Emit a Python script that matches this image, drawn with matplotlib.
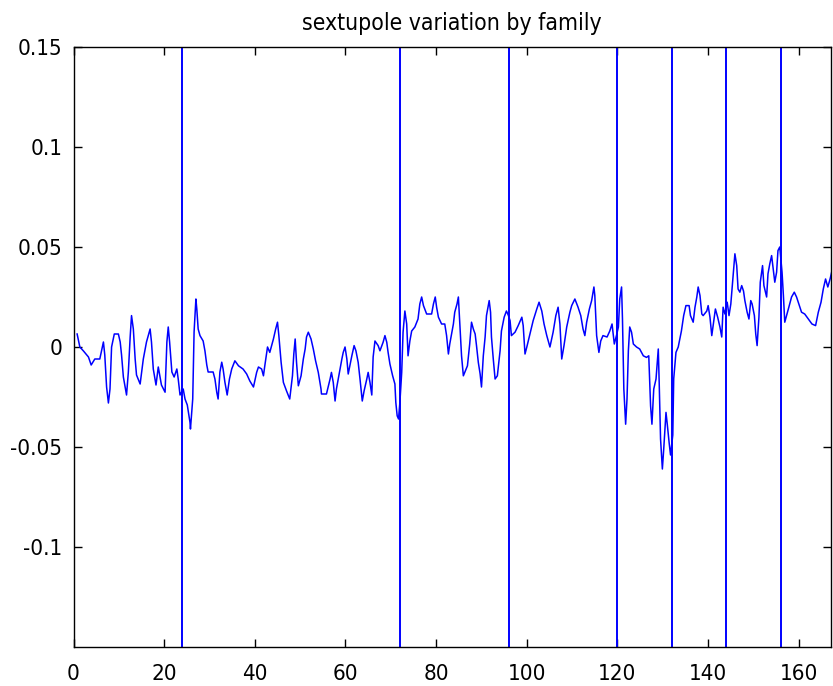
import matplotlib
matplotlib.use("Agg")
import matplotlib.pyplot as plt

title = "sextupole variation by family"

# x positions (element index) and sextupole variation
x_pos = [0.8, 1.4, 2.2, 3.3, 3.9, 4.7, 5.8, 6.6, 6.9, 7.3, 7.7, 8.05, 8.4, 9.0, 9.9, 10.3, 10.6, 11.0, 11.7, 12.1,
         12.5, 12.8, 13.2, 13.6, 13.9, 14.7, 15.4, 16.1, 16.9, 17.2, 17.6, 18.2, 18.7, 19.4, 20.2, 20.6, 20.9, 21.2,
         21.7, 22.2, 22.8, 23.1, 23.5, 24.2, 24.6, 25.1, 25.7, 25.8, 26.3, 26.6, 27.0,
         27.2, 27.5, 27.9, 28.6, 29.0, 29.4, 29.7, 30.8, 31.2, 31.6, 31.9, 32.3, 32.7, 33.0, 33.4, 33.9, 34.4, 34.9,
         35.6, 36.4, 37.4, 38.2, 38.9, 39.7, 40.4, 40.8, 41.5, 41.9, 42.2, 42.8, 43.3, 44.1, 44.6, 45.0, 45.3, 45.8,
         46.3, 47.0, 47.7, 48.3, 48.6, 48.9, 49.2, 49.6, 50.2, 50.7, 51.1, 51.4, 51.8, 52.4, 52.9, 53.4, 54.0, 54.6,
         54.7, 55.8, 56.6, 56.9, 57.3, 57.7, 58.0, 58.4, 58.8, 59.2, 59.5, 59.9, 60.3, 60.6, 61.0, 61.4, 61.9, 62.3,
         62.8, 63.2, 63.7, 64.1, 64.7, 65.0, 65.4, 65.8, 66.1, 66.5, 67.2, 67.6, 68.3, 68.7, 69.1, 69.4, 69.8, 70.4,
         70.9, 71.1, 71.4, 71.7, 72.0, 72.4, 72.7, 73.1, 73.5, 73.8, 74.2, 74.6, 75.3, 76.0, 76.4, 76.8, 77.2, 77.9,
         79.0, 79.4, 79.8, 80.1, 80.5, 81.2, 81.9,
         82.3, 82.7, 83.0, 83.4, 83.8, 84.1, 84.6, 84.9, 85.2, 85.6, 86.0, 86.3, 86.9, 87.4, 87.8, 88.2, 88.6, 88.9,
         89.3, 89.7, 90.0, 90.4, 90.8, 91.1, 91.5, 91.7, 92.0, 92.2, 92.6, 93.0, 93.5, 94.1, 94.4, 95.0, 95.5, 95.9,
         96.3, 96.6, 97.4, 98.1, 98.9, 99.2, 99.6, 100.0, 100.7, 101.4, 102.2, 102.7, 103.3, 103.8, 104.4, 105.1,
         105.8, 106.4, 106.9, 107.3, 107.7, 108.2, 108.8, 109.5, 109.9,
         110.6, 111.3, 111.9, 112.4, 112.8, 113.2, 113.8, 114.3, 114.8, 115.0, 115.4, 115.9, 116.3, 116.8, 117.7,
         118.3, 118.8, 119.3, 119.8, 120.2, 120.5, 120.9, 121.1, 121.4, 121.8, 122.1, 122.4, 122.7, 123.1, 123.5,
         124.2, 124.9, 125.7, 126.4, 126.9, 127.3, 127.6, 128.0, 128.5, 129.0, 129.2, 129.5, 129.9, 130.2, 130.7,
         131.0, 131.4, 131.7, 132.2, 132.4, 132.9, 133.4, 134.1, 134.6, 135.1, 135.8, 136.1, 136.7, 137.1, 137.5,
         137.8, 138.2, 138.6, 138.9, 139.7, 140.0, 140.4, 140.8, 141.1, 141.6, 142.1, 142.6, 143.0, 143.3, 143.7,
         144.2, 144.6, 145.0, 145.3, 145.6, 145.9, 146.3, 146.6, 147.0, 147.4, 147.8, 148.1, 148.6, 149.0, 149.4,
         149.7, 150.2, 150.5, 150.8, 151.2, 151.5, 152.0, 152.3, 152.9, 153.2, 153.6, 154.0, 154.3, 154.7, 155.1,
         155.4, 155.8, 156.3, 156.6, 156.9, 157.3, 157.8, 158.4, 159.0, 159.5, 160.0, 160.6, 161.3, 162.1, 162.9,
         163.7, 164.3, 164.9, 165.4, 165.9, 166.4, 166.9, 167.4]

variation = [0.0065, 0.0, -0.002, -0.005, -0.009, -0.006, -0.006, 0.0025, -0.004, -0.020, -0.028, -0.021, 0.0, 0.0065,
             0.0065, 0.0025, -0.004, -0.015, -0.024, -0.0125, 0.005, 0.0157, 0.009, -0.006, -0.014, -0.0185, -0.006,
             0.0025, 0.009, 0.0025, -0.011, -0.019, -0.010, -0.019, -0.0226, 0.0025, 0.010, 0.0025, -0.0125, -0.015,
             -0.011, -0.016, -0.024, -0.021, -0.026, -0.029, -0.0377, -0.041, -0.026, 0.0075, 0.024,
             0.019, 0.009, 0.0057, 0.003, -0.002, -0.009, -0.0125, -0.0125, -0.016, -0.0226, -0.026, -0.0125, -0.0076,
             -0.011, -0.0176, -0.024, -0.016, -0.011, -0.0069, -0.0094, -0.011, -0.0135, -0.017, -0.020, -0.0127,
             -0.010, -0.011, -0.0144, -0.0094, 0.0, -0.0027, 0.004, 0.009, 0.0124, 0.0057, -0.0077, -0.0177, -0.022,
             -0.026, -0.0144, -0.0035, 0.004, -0.0077, -0.0194, -0.0144, -0.006, -0.001, 0.005, 0.0074, 0.004, -0.001,
             -0.0069, -0.0127, -0.021,
             -0.0235, -0.0235, -0.016, -0.0127, -0.0177, -0.027, -0.021, -0.016, -0.011, -0.006, -0.0027, 0.0, -0.006,
             -0.0135, -0.009, -0.0044, 0.0007, -0.0019, -0.0077, -0.016, -0.027, -0.022, -0.016, -0.0127, -0.0177,
             -0.024, -0.005, 0.003, 0.0007, -0.0019, 0.0024, 0.0057, 0.0024, -0.0027, -0.0085, -0.0144, -0.0185,
             -0.0277, -0.0344, -0.036, -0.0277, -0.0127, 0.0074, 0.018, 0.0115, -0.0044, 0.003, 0.008, 0.010, 0.014,
             0.0215, 0.025, 0.0207, 0.0165, 0.0165, 0.0215, 0.025, 0.0199, 0.0149, 0.0115, 0.0115,
             0.0057, -0.0035, 0.0015, 0.0065, 0.0115, 0.0174, 0.0215, 0.025, 0.0124, -0.0044, -0.0144, -0.0127,
             -0.0094, 0.0015, 0.0124, 0.009, 0.0065, 0.0007, -0.0077, -0.0135, -0.020, -0.0044, 0.005, 0.0157, 0.0207,
             0.0232, 0.0174, 0.005, -0.006, -0.016, -0.0144, -0.0019, 0.008, 0.0149, 0.018, 0.016, 0.0132, 0.0057,
             0.0074, 0.0107, 0.0149, 0.0107, -0.0035, 0.0, 0.0065, 0.0132, 0.019, 0.0224, 0.018, 0.0115, 0.0057, 0.0,
             0.0074, 0.0157, 0.0199, 0.0115, -0.006, 0.0007, 0.010, 0.0174, 0.0207,
             0.024, 0.0199, 0.0157, 0.009, 0.0057, 0.0124, 0.019, 0.0232, 0.030, 0.0257, 0.0057, -0.0027, 0.003, 0.0057,
             0.005, 0.008, 0.0115, 0.0015, 0.006, 0.010, 0.024, 0.030, 0.014, -0.021, -0.0386, -0.026, -0.0019, 0.010,
             0.0074, 0.0015, 0.0, -0.001, -0.0044, -0.0052, -0.0044, -0.0294, -0.0386, -0.021, -0.016, -0.001,
             -0.0177, -0.046, -0.061, -0.051, -0.0327, -0.039, -0.048, -0.054, -0.044, -0.016, -0.0027, 0.0, 0.008,
             0.0157, 0.0207, 0.0207, 0.0157, 0.0124, 0.0199, 0.025,
             0.030, 0.0257, 0.0165, 0.0157, 0.018, 0.0207, 0.0149, 0.0057, 0.0107, 0.019, 0.0149, 0.010, 0.005, 0.0199,
             0.0165, 0.0224, 0.0157, 0.0215, 0.030, 0.039, 0.0466, 0.0407, 0.029, 0.0274, 0.0307, 0.028, 0.0232,
             0.0174, 0.014, 0.0232, 0.0215, 0.0157, 0.0065, 0.0007, 0.0149, 0.0324, 0.0407, 0.0307, 0.025, 0.0366,
             0.0416, 0.0457, 0.040, 0.0324, 0.0374, 0.0482, 0.050, 0.0374, 0.0257, 0.0124, 0.0157, 0.0199, 0.025,
             0.0274, 0.025, 0.0215, 0.0174, 0.0165, 0.014, 0.0115, 0.0107, 0.0174, 0.0224, 0.029, 0.034, 0.030, 0.034,
             0.039]

family_boundaries = [24, 72, 96, 120, 132, 144, 156]

x_ticks = [0, 20, 40, 60, 80, 100, 120, 140, 160]
y_ticks = [-0.1, -0.05, 0, 0.05, 0.1, 0.15]
y_tick_labels = ["-0.1", "-0.05", "0", "0.05", "0.1", "0.15"]

plt.rcParams['font.family'] = ['DejaVu Sans']
plt.rcParams['font.stretch'] = 'condensed'

fig = plt.figure(figsize=(8.33, 6.86), dpi=100)
ax = fig.add_axes([73.5 / 833, 1 - 647 / 686, (831 - 73.5) / 833, 600 / 686])

ax.plot(x_pos, variation, color=(0, 0, 1), lw=1.1)
for b in family_boundaries:
    ax.axvline(b, color=(0, 0, 1), lw=1.4)

ax.set_xlim(0, 167.1)
ax.set_ylim(-0.15, 0.15)
ax.set_xticks(x_ticks)
ax.set_xticklabels([str(t) for t in x_ticks])
ax.set_yticks(y_ticks)
ax.set_yticklabels(y_tick_labels)
ax.tick_params(direction='in', length=6, width=1, top=True, right=True,
               labelsize=16, colors='black')
ax.tick_params(axis='x', pad=12.5)
ax.tick_params(axis='y', pad=8)
for s in ax.spines.values():
    s.set_linewidth(1.0)
ax.set_title(title, fontsize=16.5, pad=12)

fig.savefig("out.png", dpi=100)
